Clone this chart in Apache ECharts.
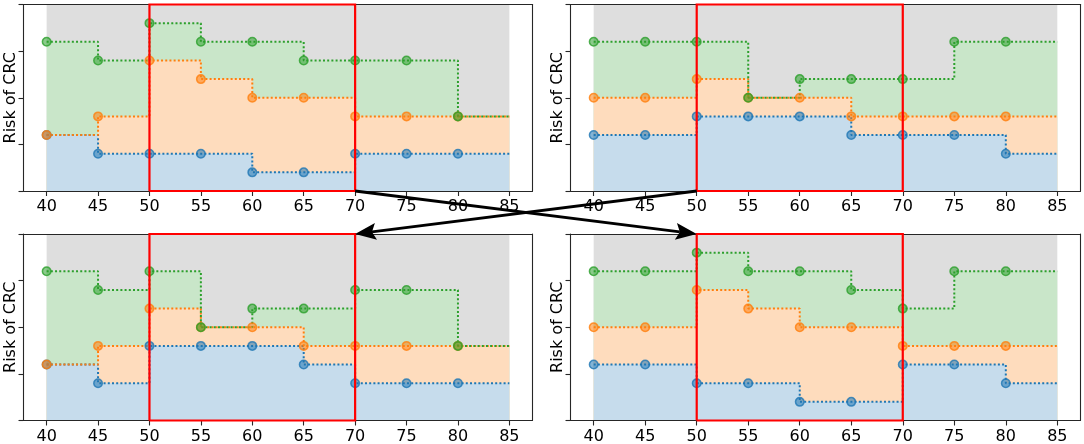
<!DOCTYPE html>
<html><head><meta charset="utf-8">
<script src="https://cdn.jsdelivr.net/npm/echarts@6/dist/echarts.min.js"></script>
<style>html,body{margin:0;padding:0;background:#fff}#c{width:1084px;height:444px}</style>
</head><body><div id="c"></div>
<script>
// ---- data ----
const xValues = [40, 45, 50, 55, 60, 65, 70, 75, 80];
const xEnd = 85;
const xTicks = [40, 45, 50, 55, 60, 65, 70, 75, 80, 85];
const yMax = 4;
const boxRange = [50, 70];
const yName = 'Risk of CRC';

const p1Blue   = [1.2, 0.8, 0.8, 0.8, 0.4, 0.4, 0.8, 0.8, 0.8];
const p1Orange = [1.2, 1.6, 2.8, 2.4, 2.0, 2.0, 1.6, 1.6, 1.6];
const p1Green  = [3.2, 2.8, 3.6, 3.2, 3.2, 2.8, 2.8, 2.8, 1.6];

const p2Blue   = [1.2, 1.2, 1.6, 1.6, 1.6, 1.2, 1.2, 1.2, 0.8];
const p2Orange = [2.0, 2.0, 2.4, 2.0, 2.0, 1.6, 1.6, 1.6, 1.6];
const p2Green  = [3.2, 3.2, 3.2, 2.0, 2.4, 2.4, 2.4, 3.2, 3.2];

const p3Blue   = [1.2, 0.8, 1.6, 1.6, 1.6, 1.2, 0.8, 0.8, 0.8];
const p3Orange = [1.2, 1.6, 2.4, 2.0, 2.0, 1.6, 1.6, 1.6, 1.6];
const p3Green  = [3.2, 2.8, 3.2, 2.0, 2.4, 2.4, 2.8, 2.8, 1.6];

const p4Blue   = [1.2, 1.2, 0.8, 0.8, 0.4, 0.4, 1.2, 1.2, 0.8];
const p4Orange = [2.0, 2.0, 2.8, 2.4, 2.0, 2.0, 1.6, 1.6, 1.6];
const p4Green  = [3.2, 3.2, 3.6, 3.2, 3.2, 2.8, 2.4, 3.2, 3.2];

const panels = [
  [p1Blue, p1Orange, p1Green],
  [p2Blue, p2Orange, p2Green],
  [p3Blue, p3Orange, p3Green],
  [p4Blue, p4Orange, p4Green]
];

// ---- styles ----
const lineColors = ['#1f77b4', '#ff7f0e', '#2ca02c'];
const markerFill = ['rgba(31,119,180,0.55)', 'rgba(255,127,14,0.55)', 'rgba(44,160,44,0.55)'];
const markerEdge = ['rgba(31,119,180,0.8)', 'rgba(255,127,14,0.8)', 'rgba(44,160,44,0.8)'];
const fillColors = ['#c6dcec', '#fedcbd', '#c9e6c9'];
const grayFill = '#dedede';
const frameColor = '#262626';
const font = 'DejaVu Sans';

const gridRects = [
  {left: 23.5, top: 4.5, width: 509, height: 186.5},
  {left: 570.5, top: 4.5, width: 510, height: 186.5},
  {left: 23.5, top: 234, width: 509, height: 186.5},
  {left: 570.5, top: 234, width: 510, height: 186.5}
];
const xMin = 37.75, xMax = 87.25;

function stepData(vals, withSymbol) {
  const d = xValues.map((x, i) => [x, vals[i]]);
  const last = vals[vals.length - 1];
  d.push(withSymbol ? {value: [xEnd, last], symbol: 'none'} : [xEnd, last]);
  return d;
}

const grids = [], xAxes = [], yAxes = [], series = [];
const frameLine = {show: true, onZero: false, lineStyle: {color: frameColor, width: 1.1}};
gridRects.forEach((r, gi) => {
  grids.push(Object.assign({show: false, outerBoundsMode: 'none', containLabel: false}, r));
});
// main axes (bottom / left)
gridRects.forEach((r, gi) => {
  xAxes.push({
    type: 'value', gridIndex: gi, min: xMin, max: xMax, position: 'bottom',
    splitLine: {show: false}, axisLine: frameLine,
    axisTick: {show: true, inside: false, length: 5, customValues: xTicks,
      lineStyle: {color: frameColor, width: 1.1}},
    axisLabel: {show: true, customValues: xTicks, margin: 8, fontSize: 16,
      fontFamily: font, color: '#000'},
    z: 10
  });
  yAxes.push({
    type: 'value', gridIndex: gi, min: 0, max: yMax, interval: 1, position: 'left',
    splitLine: {show: false}, axisLine: frameLine,
    axisTick: {show: true, inside: false, length: 5, lineStyle: {color: frameColor, width: 1.1}},
    axisLabel: {show: false},
    name: yName, nameLocation: 'middle', nameGap: 5,
    nameTextStyle: {fontSize: 16, fontFamily: font, color: '#000'},
    z: 10
  });
});
// frame axes (top / right)
gridRects.forEach((r, gi) => {
  xAxes.push({
    type: 'value', gridIndex: gi, min: xMin, max: xMax, position: 'top',
    splitLine: {show: false}, axisLine: frameLine, axisTick: {show: false},
    axisLabel: {show: false}, z: 10
  });
  yAxes.push({
    type: 'value', gridIndex: gi, min: 0, max: yMax, position: 'right',
    splitLine: {show: false}, axisLine: frameLine, axisTick: {show: false},
    axisLabel: {show: false}, z: 10
  });
});

gridRects.forEach((r, gi) => {
  // gray background band
  series.push({
    type: 'line', xAxisIndex: gi, yAxisIndex: gi, z: 1, silent: true,
    data: [[xValues[0], yMax], [xEnd, yMax]],
    symbol: 'none', lineStyle: {width: 0, opacity: 0},
    areaStyle: {color: grayFill, opacity: 1, origin: 'start'},
    emphasis: {disabled: true}
  });
  const vals = panels[gi];
  // filled steps: green, orange, blue (painted over each other)
  [2, 1, 0].forEach(k => {
    series.push({
      type: 'line', xAxisIndex: gi, yAxisIndex: gi, z: 1, silent: true,
      step: 'end', data: stepData(vals[k], false),
      symbol: 'none', lineStyle: {width: 0, opacity: 0},
      areaStyle: {color: fillColors[k], opacity: 1, origin: 'start'},
      emphasis: {disabled: true}
    });
  });
  // dotted step lines with markers
  [0, 1, 2].forEach(k => {
    series.push({
      type: 'line', xAxisIndex: gi, yAxisIndex: gi, z: 3, silent: true,
      step: 'end', data: stepData(vals[k], true),
      showAllSymbol: true, symbol: 'circle', symbolSize: 8.5,
      itemStyle: {color: markerFill[k], borderColor: markerEdge[k], borderWidth: 1.5},
      lineStyle: {color: lineColors[k], width: 2, type: [2, 2.2], cap: 'butt'},
      emphasis: {disabled: true}
    });
  });
  // red highlight box (closed outline through the box corners), drawn above the frame
  series.push({
    type: 'line', xAxisIndex: gi, yAxisIndex: gi, z: 20, silent: true, clip: false,
    data: [[boxRange[0], 0], [boxRange[0], yMax], [boxRange[1], yMax], [boxRange[1], 0], [boxRange[0], 0]],
    symbol: 'none', lineStyle: {color: '#ff0000', width: 2.2, join: 'miter'},
    emphasis: {disabled: true}
  });
});

const chart = echarts.init(document.getElementById('c'), null, {renderer: 'canvas'});
chart.setOption({
  animation: false,
  grid: grids, xAxis: xAxes, yAxis: yAxes, series: series
});

// crossing arrows between panels, positioned through the axes' scales
function arrow(a, b) {
  const dx = b[0] - a[0], dy = b[1] - a[1], L = Math.hypot(dx, dy);
  const ux = dx / L, uy = dy / L, nx = -uy, ny = ux;
  const hl = 21, hw = 8.5, notchD = 17;
  const base = [b[0] - ux * hl, b[1] - uy * hl];
  const notch = [b[0] - ux * notchD, b[1] - uy * notchD];
  return [
    {type: 'line', z: 100, silent: true,
      shape: {x1: a[0], y1: a[1], x2: notch[0], y2: notch[1]},
      style: {stroke: '#000', lineWidth: 2.8}},
    {type: 'polygon', z: 100, silent: true,
      shape: {points: [b, [base[0] + nx * hw, base[1] + ny * hw], notch, [base[0] - nx * hw, base[1] - ny * hw]]},
      style: {fill: '#000'}}
  ];
}
const a1 = chart.convertToPixel({xAxisIndex: 0, yAxisIndex: 0}, [boxRange[1], 0]);
const b1 = chart.convertToPixel({xAxisIndex: 3, yAxisIndex: 3}, [boxRange[0], yMax]);
const a2 = chart.convertToPixel({xAxisIndex: 1, yAxisIndex: 1}, [boxRange[0], 0]);
const b2 = chart.convertToPixel({xAxisIndex: 2, yAxisIndex: 2}, [boxRange[1], yMax]);
chart.setOption({graphic: arrow(a1, b1).concat(arrow(a2, b2))});
</script>
</body></html>
